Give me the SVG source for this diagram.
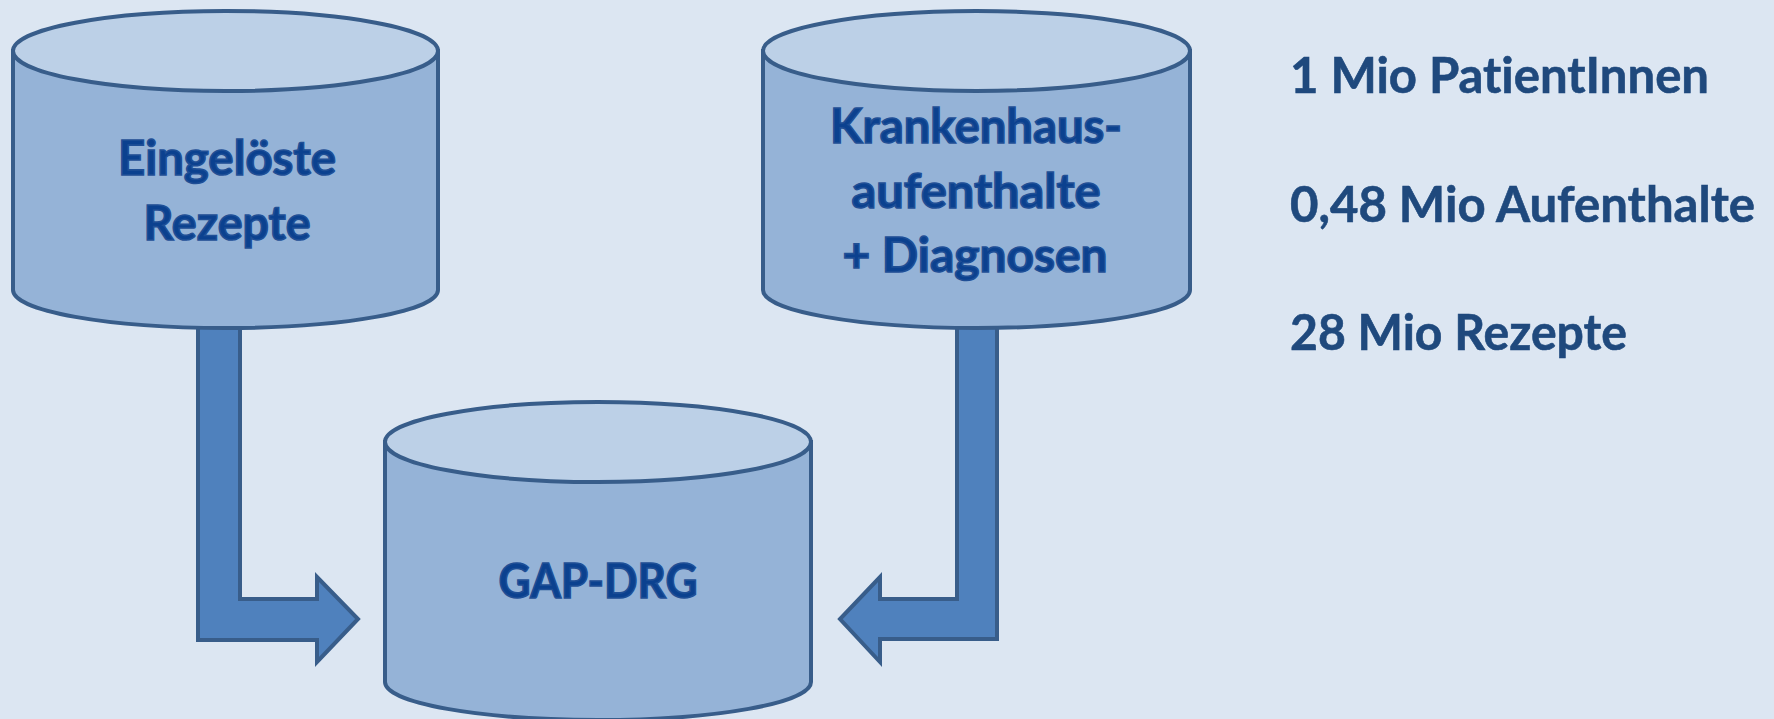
<svg xmlns="http://www.w3.org/2000/svg" width="1774" height="719" viewBox="0 0 1774 719">
<style>
.body{fill:#95B3D7;stroke:#385D8A;stroke-width:4}
.top{fill:#BCD0E7;stroke:#385D8A;stroke-width:4}
.arrow{fill:#4F81BD;stroke:#385D8A;stroke-width:4;stroke-linejoin:miter}
.nt{font-family:Lato,"Open Sans",sans-serif;font-weight:bold;font-size:47px;fill:#0B418F;stroke:#1F4F96;stroke-width:1.6;text-anchor:middle;font-variant-ligatures:none}
.st{font-family:Lato,"Open Sans",sans-serif;font-weight:bold;font-size:50px;fill:#1F497D;stroke:#1F497D;stroke-width:0.6;font-variant-ligatures:none}
</style>
<rect width="1774" height="719" fill="#DCE6F2"/>
<g id="connectors">
<polygon class="arrow" points="198,300 198,640 317,640 317,662 358,619 317,577 317,599 240,599 240,300"/>
<polygon class="arrow" points="997,300 997,639 880,639 880,662 840,619 880,577 880,599 957,599 957,300"/>
</g>
<g id="rezepte">
<path class="body" d="M13,51 L13,290 A212.5,38 0 0 0 438,290 L438,51 Z"/>
<ellipse class="top" cx="225.5" cy="51" rx="212.5" ry="40"/>
<text class="nt" x="227" y="175" textLength="218" lengthAdjust="spacingAndGlyphs">Eingelöste</text>
<text class="nt" x="227" y="240" textLength="167" lengthAdjust="spacingAndGlyphs">Rezepte</text>
</g>
<g id="krankenhaus">
<path class="body" d="M763,51 L763,290 A213.5,38 0 0 0 1190,290 L1190,51 Z"/>
<ellipse class="top" cx="976.5" cy="51" rx="213.5" ry="40"/>
<text class="nt" x="976" y="143" textLength="292" lengthAdjust="spacingAndGlyphs">Krankenhaus-</text>
<text class="nt" x="976" y="208" textLength="249" lengthAdjust="spacingAndGlyphs">aufenthalte</text>
<text class="nt" x="975" y="272" textLength="265" lengthAdjust="spacingAndGlyphs">+ Diagnosen</text>
</g>
<g id="gapdrg">
<path class="body" d="M385,442 L385,682 A213,38 0 0 0 811,682 L811,442 Z"/>
<ellipse class="top" cx="598" cy="442" rx="213" ry="40"/>
<text class="nt" x="598" y="598" textLength="199" lengthAdjust="spacingAndGlyphs">GAP-DRG</text>
</g>
<g id="stats">
<text class="st" x="1290" y="93" textLength="419" lengthAdjust="spacingAndGlyphs">1 Mio PatientInnen</text>
<text class="st" x="1290" y="222" textLength="465" lengthAdjust="spacingAndGlyphs">0,48 Mio Aufenthalte</text>
<text class="st" x="1290" y="350" textLength="337" lengthAdjust="spacingAndGlyphs">28 Mio Rezepte</text>
</g>
</svg>
